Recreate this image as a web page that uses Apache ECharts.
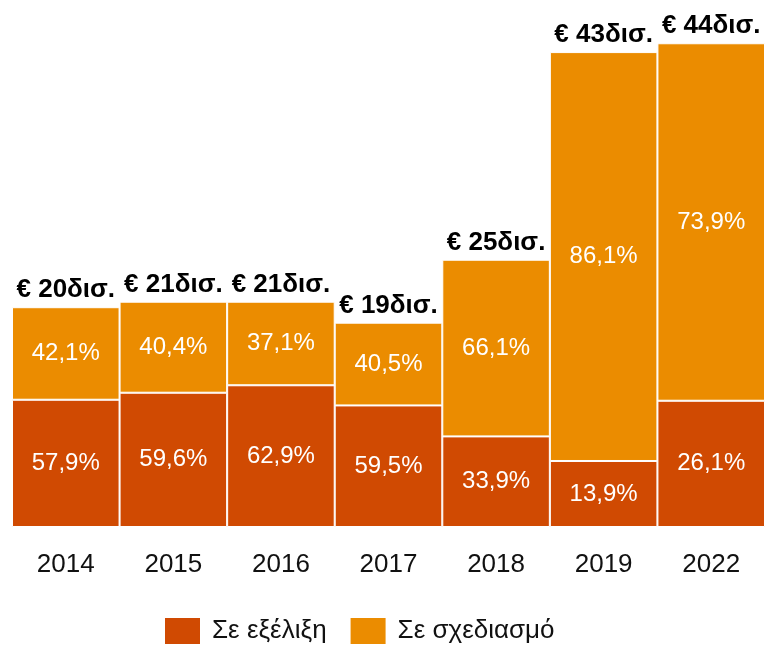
<!DOCTYPE html>
<html>
<head>
<meta charset="utf-8">
<script src="https://cdn.jsdelivr.net/npm/echarts@6/dist/echarts.min.js"></script>
<style>
  html, body { margin: 0; padding: 0; background: #fff; }
  #chart { width: 765px; height: 645px; }
</style>
</head>
<body>
<div id="chart"></div>
<script>
// years on the x axis
const years = ['2014', '2015', '2016', '2017', '2018', '2019', '2022']
// total value in δισ. € (bar height)
const totals = [19.9, 20.4, 20.4, 18.5, 24.2, 43.0, 43.8]
// labels printed above each bar
const totalLabels = ['€ 20δισ.', '€ 21δισ.', '€ 21δισ.', '€ 19δισ.', '€ 25δισ.', '€ 43δισ.', '€ 44δισ.']
// share "Σε εξέλιξη" (%)
const pctProgress = [57.9, 59.6, 62.9, 59.5, 33.9, 13.9, 26.1]
// share "Σε σχεδιασμό" (%)
const pctPlanned = [42.1, 40.4, 37.1, 40.5, 66.1, 86.1, 73.9]

const FONT = 'Liberation Sans, Arial, sans-serif'
const fmtPct = v => v.toFixed(1).replace('.', ',') + '%'

const chart = echarts.init(document.getElementById('chart'))

const segLabel = (pcts) => ({
  show: true,
  position: 'inside',
  color: '#fff',
  fontSize: 24,
  fontFamily: FONT,
  formatter: p => fmtPct(pcts[p.dataIndex])
})

const option = {
  animation: false,
  grid: { left: 12, right: 0, top: 30, bottom: 118 },
  legend: {
    left: 158,
    top: 611,
    itemWidth: 37,
    itemHeight: 28,
    itemGap: 22,
    icon: 'rect',
    data: ['Σε εξέλιξη', 'Σε σχεδιασμό'],
    textStyle: {
      fontSize: 26,
      color: '#111',
      fontFamily: FONT,
      padding: [0, 0, 0, 6]
    }
  },
  xAxis: {
    type: 'category',
    data: years,
    axisLine: { show: false },
    axisTick: { show: false },
    axisLabel: {
      fontSize: 26,
      color: '#111',
      margin: 25,
      fontFamily: FONT
    }
  },
  yAxis: {
    type: 'value',
    min: 0,
    max: 45,
    show: false
  },
  series: [
    {
      name: 'Σε εξέλιξη',
      type: 'bar',
      stack: 'total',
      barCategoryGap: 0,
      data: totals.map((t, i) => +(t * pctProgress[i] / 100).toFixed(3)),
      itemStyle: { color: '#D04A02', borderColor: '#fff', borderWidth: 1 },
      label: segLabel(pctProgress)
    },
    {
      name: 'Σε σχεδιασμό',
      type: 'bar',
      stack: 'total',
      barCategoryGap: 0,
      data: totals.map((t, i) => +(t * pctPlanned[i] / 100).toFixed(3)),
      itemStyle: { color: '#EB8C00', borderColor: '#fff', borderWidth: 1 },
      label: segLabel(pctPlanned)
    },
    {
      name: 'total',
      type: 'bar',
      barGap: '-100%',
      barCategoryGap: 0,
      silent: true,
      z: 1,
      data: totals,
      itemStyle: { color: 'rgba(0,0,0,0)' },
      label: {
        show: true,
        position: 'top',
        distance: 4,
        color: '#000',
        fontSize: 26,
        fontWeight: 'bold',
        fontFamily: FONT,
        formatter: p => totalLabels[p.dataIndex]
      }
    }
  ]
}

chart.setOption(option)
</script>
</body>
</html>
